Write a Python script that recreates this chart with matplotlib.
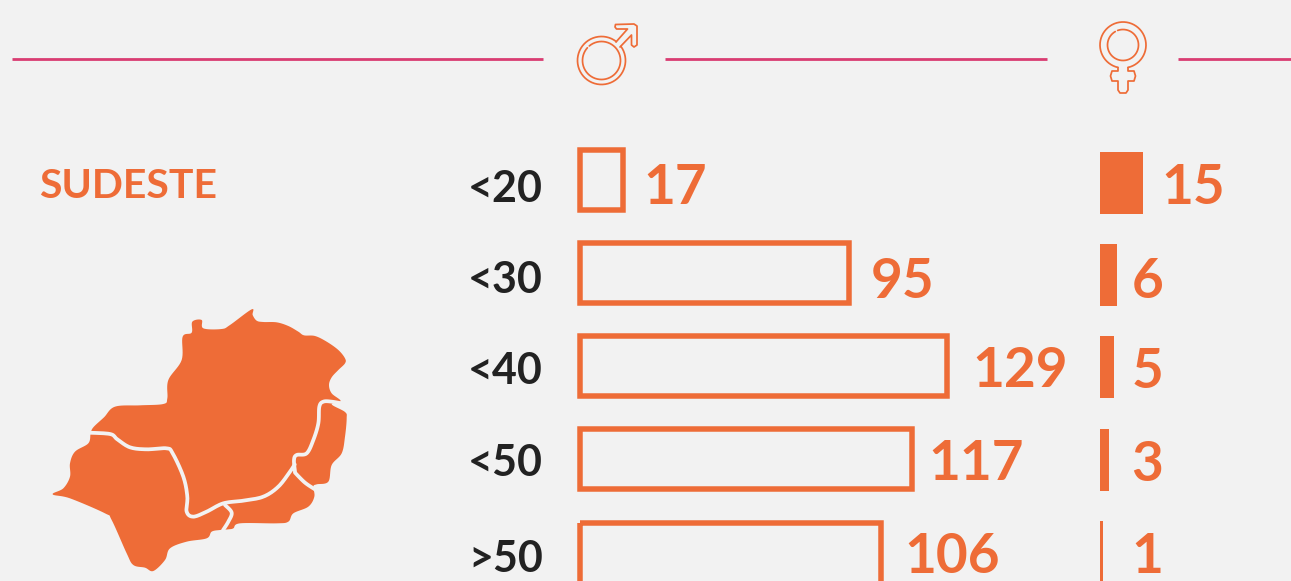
import numpy as np
import matplotlib
matplotlib.use("Agg")
import matplotlib.pyplot as plt
from matplotlib.path import Path
from matplotlib.patches import PathPatch

age_groups = ["<20", "<30", "<40", "<50", ">50"]
male_values = [17, 95, 129, 117, 106]
female_values = [15, 6, 5, 3, 1]
region_name = "SUDESTE"

BG = "#f2f2f2"
ORANGE = "#ee6c37"
PINK = "#d93c72"
DARK = "#222222"
W, H = 1291, 581
plt.rcParams["font.family"] = ["Lato", "DejaVu Sans"]

fig = plt.figure(figsize=(W / 100, H / 100), dpi=100, facecolor=BG)
base = fig.add_axes([0, 0, 1, 1])
base.set_xlim(0, W)
base.set_ylim(H, 0)
base.axis("off")


def px_axes(left, right, top, bottom):
    ax = fig.add_axes([left / W, 1 - bottom / H, (right - left) / W, (bottom - top) / H])
    ax.patch.set_alpha(0)
    ax.axis("off")
    return ax


PX_PER_UNIT_M = 2.89
PX_PER_UNIT_F = 2.87
STROKE = 5.5
PITCH_M, PITCH_F = 93.0, 92.2
y = np.arange(len(age_groups))

# male bars: outlined, stroke inside the bar length
ax_m = px_axes(577, 1090, 180.5 - PITCH_M / 2, H)
ax_m.set_xlim(0, 513 / PX_PER_UNIT_M)
ax_m.set_ylim((H - 180.5) / PITCH_M, -0.5)
pad = (STROKE / 2) / PX_PER_UNIT_M
ax_m.barh(y, np.array(male_values) - 2 * pad, left=pad, height=60 / PITCH_M,
          facecolor="none", edgecolor=ORANGE, linewidth=STROKE * 0.72)

# female bars: solid
ax_f = px_axes(1100, W, 183 - PITCH_F / 2, H)
ax_f.set_xlim(0, (W - 1100) / PX_PER_UNIT_F)
ax_f.set_ylim((H - 183) / PITCH_F, -0.5)
ax_f.barh(y, female_values, height=62 / PITCH_F, color=ORANGE, linewidth=0)

# value labels (pixel offsets from bar end / row centre)
m_off = [17, 19, 23, 13.5, 21.5]
m_base = [24, 24.5, 21, 21, 20.5]
f_off = [18, 15, 17, 23, 28]
f_base = [21.5, 22.5, 20.5, 21, 21]
for i, v in enumerate(male_values):
    ax_m.annotate(str(v), (v, i), xytext=(m_off[i] * 0.72, -m_base[i] * 0.72), textcoords="offset points",
                  color=ORANGE, fontsize=39.5, fontweight="bold", ha="left", va="baseline")
for i, v in enumerate(female_values):
    ax_f.annotate(str(v), (v, i), xytext=(f_off[i] * 0.72, -f_base[i] * 0.72), textcoords="offset points",
                  color=ORANGE, fontsize=39.5, fontweight="bold", ha="left", va="baseline")

# age labels
age_baseline = [202, 293, 384, 476, 572]
for i, lab in enumerate(age_groups):
    base.text(543, age_baseline[i], lab, color=DARK, fontsize=31, fontweight="bold",
              ha="right", va="baseline")

base.text(39, 198.5, region_name, color=ORANGE, fontsize=29.5, fontweight="bold",
          ha="left", va="baseline")

# header rules
for x0, x1 in [(12, 543), (665, 1047), (1178, W)]:
    base.plot([x0, x1], [59, 59], color=PINK, lw=2.0, solid_capstyle="butt")


# icons
def ring(cx, cy, r, a0, a1):
    t = np.radians(np.linspace(a0, a1, 160))
    return cx + r * np.cos(t), cy + r * np.sin(t)


icon = dict(color=ORANGE, lw=1.25, solid_joinstyle="round", solid_capstyle="round")
cx, cy = 601.5, 60.5
base.plot(*ring(cx, cy, 24, -36, 308), **icon)
base.plot(*ring(cx, cy, 19, -130, 222), **icon)
arrow_x = [616, 627.5, 616.5, 615, 615.5, 634, 637, 637, 634, 631.5, 631.5, 620]
arrow_y = [42, 29, 29, 27, 24.5, 24, 26, 45, 47, 45, 35, 47]
base.plot(arrow_x, arrow_y, **icon)

cx, cy = 1123, 45
base.plot(*ring(cx, cy, 23, 103, 437), **icon)
base.plot(*ring(cx, cy, 15.5, -110, 240), **icon)
stem_x = [1118, 1118, 1112, 1110.5, 1112, 1118, 1118, 1120, 1126, 1128, 1128, 1134, 1135.5, 1134, 1128, 1128]
stem_y = [67.5, 71, 71, 76, 81, 81, 90, 93, 93, 90, 81, 81, 76, 71, 71, 67.5]
base.plot(stem_x, stem_y, **icon)


# map of the region (traced outline, crop-space coords -> pixels)
def smooth(pts, closed=False, n=10):
    p = np.array(pts, float)
    if closed:
        q = np.vstack([p[-1], p, p[0], p[1]])
    else:
        q = np.vstack([p[0], p, p[-1]])
    out = []
    for i in range(1, len(q) - 2):
        a, b, c, d = q[i - 1], q[i], q[i + 1], q[i + 2]
        for t in np.linspace(0, 1, n, endpoint=False):
            out.append(0.5 * (2 * b + (c - a) * t + (2 * a - 5 * b + 4 * c - d) * t ** 2
                              + (3 * b - a - 3 * c + d) * t ** 3))
    out = np.array(out)
    return out[:, 0] / 3 + 30, out[:, 1] / 3 + 290


outline = [(665, 58), (668, 75), (680, 92), (700, 96), (740, 97), (775, 108), (805, 125), (822, 136),
           (855, 138), (890, 155), (925, 180), (945, 205), (945, 220), (925, 240), (905, 262), (897, 285),
           (905, 310), (932, 333), (905, 343), (945, 366), (950, 385), (945, 440), (935, 490), (905, 525),
           (895, 575), (860, 583), (850, 590), (853, 620), (835, 650), (790, 670), (775, 695), (740, 700),
           (630, 700), (610, 715), (595, 718), (570, 720), (545, 725), (530, 745), (470, 755), (420, 775),
           (405, 810), (370, 843), (345, 833), (310, 825), (290, 790), (245, 690), (225, 670), (120, 625),
           (68, 613), (100, 595), (120, 560), (120, 520), (135, 485), (175, 460), (182, 430), (190, 412),
           (222, 382), (255, 350), (330, 346), (400, 342), (412, 325), (415, 270), (455, 210), (458, 140),
           (485, 128), (487, 95), (515, 90), (520, 115), (575, 117), (600, 105)]
mx, my = smooth(outline, closed=True)
base.add_patch(PathPatch(Path(np.column_stack([mx, my])), facecolor=ORANGE, edgecolor="none"))

borders = [
    [(170, 428), (240, 432), (262, 448), (300, 472), (350, 478), (410, 475), (428, 490), (460, 560),
     (472, 620), (470, 665), (490, 680), (530, 665), (580, 640), (640, 632), (700, 620), (745, 590),
     (780, 545), (795, 522)],
    [(795, 545), (792, 510), (800, 495), (830, 490), (850, 450), (865, 400), (868, 350), (880, 335),
     (905, 335), (945, 342)],
    [(795, 548), (825, 578), (858, 600)],
    [(585, 645), (605, 668), (595, 695), (578, 722)],
]
for b in borders:
    bx, by = smooth(b)
    base.plot(bx, by, color=BG, lw=2.7, solid_capstyle="round", solid_joinstyle="round")

fig.savefig("out.png", dpi=100, facecolor=BG)
